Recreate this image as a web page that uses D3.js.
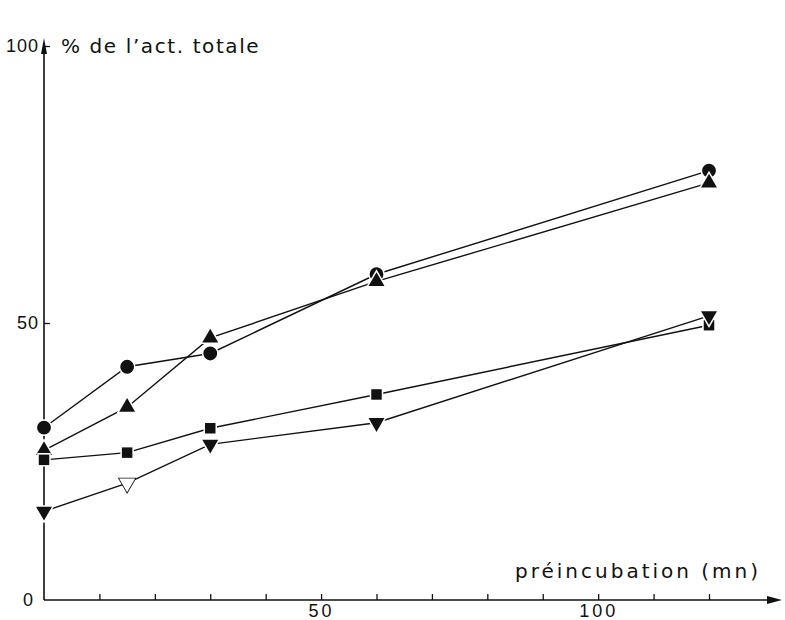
<!DOCTYPE html>
<html>
<head>
<meta charset="utf-8">
<style>
    body { margin: 0; background: #fff; }
    svg { display: block; font-family: 'DejaVu Sans', sans-serif; }
    .axis .domain { display: none; }
    .axis text { font-size: 18px; fill: #111; }
    .axis line { stroke: #111; stroke-width: 1.3; }
    .series path { fill: none; stroke: #111; stroke-width: 1.4; }
</style>
</head>
<body>
<svg width="785" height="620"></svg>
<script src="https://d3js.org/d3.v7.min.js"></script>
<script>
// preincubation times (mn)
const times = [0, 15, 30, 60, 120]

// % of total activity
const circles = [31.1, 42.1, 44.5, 58.8, 77.5]
const trianglesUp = [27.0, 34.8, 47.3, 57.5, 75.3]
const squares = [25.3, 26.6, 31.0, 37.1, 49.6]
const trianglesDown = [16.0, 21.1, 28.1, 32.0, 51.3]

const minorTicks = [10, 20, 30, 40, 50, 60, 70, 80, 90, 100, 110, 120]
const xLabels = [50, 100]
const yTicks = [0, 50, 100]

let svg = d3.select("svg")

let x = d3.scaleLinear().domain([0, 120]).range([44, 709])
let y = d3.scaleLinear().domain([0, 100]).range([600, 46])

// axis lines with arrow heads
svg.append("line")
    .attr("x1", x(0)).attr("y1", y(0))
    .attr("x2", 776).attr("y2", y(0))
    .attr("stroke", "#111").attr("stroke-width", 1.6)
svg.append("path")
    .attr("d", `M782,${y(0)} L767,${y(0) - 4} L767,${y(0) + 4} Z`)
    .attr("fill", "#111")

svg.append("line")
    .attr("x1", x(0)).attr("y1", y(0))
    .attr("x2", x(0)).attr("y2", 44)
    .attr("stroke", "#111").attr("stroke-width", 1.6)
svg.append("path")
    .attr("d", `M${x(0)},38 L${x(0) - 3},54 L${x(0) + 3},54 Z`)
    .attr("fill", "#111")

// x minor ticks (pointing up)
svg.append("g")
    .attr("class", "axis")
    .attr("transform", `translate(0, ${y(0)})`)
    .call(d3.axisBottom(x).tickValues(minorTicks).tickSize(-6).tickFormat(""))

// x labels
svg.append("g")
    .attr("class", "axis")
    .attr("transform", `translate(0, ${y(0)})`)
    .call(d3.axisBottom(x).tickValues(xLabels).tickSize(0).tickPadding(4))
    .selectAll("text").attr("letter-spacing", 3)

// y ticks (pointing right)
let yAxis = svg.append("g")
    .attr("class", "axis")
    .attr("transform", `translate(${x(0)}, 0)`)
    .call(d3.axisLeft(y).tickValues(yTicks).tickSize(-6).tickPadding(5))
yAxis.selectAll("text").attr("letter-spacing", 1)
yAxis.selectAll(".tick").filter(d => d === 0).select("line").remove()
yAxis.selectAll(".tick").filter(d => d === 0).select("text").attr("x", -10)

// axis titles
svg.append("text")
    .attr("x", 61).attr("y", 53)
    .attr("font-size", 20)
    .attr("letter-spacing", 1.6)
    .attr("fill", "#111")
    .text("% de l’act. totale")

svg.append("text")
    .attr("x", 515).attr("y", 578)
    .attr("font-size", 20)
    .attr("letter-spacing", 3)
    .attr("fill", "#111")
    .text("préincubation (mn)")

// series
const series = [
    { values: circles, symbol: d3.symbolCircle, size: 150, open: [] },
    { values: trianglesUp, symbol: d3.symbolTriangle, size: 110, open: [] },
    { values: squares, symbol: d3.symbolSquare, size: 110, open: [] },
    { values: trianglesDown, symbol: d3.symbolTriangle, size: 110, open: [1], flip: true }
]

let line = d3.line().x(d => x(d[0])).y(d => y(d[1]))

series.forEach(s => {
    let pts = times.map((t, i) => [t, s.values[i]])
    let g = svg.append("g").attr("class", "series")
    g.append("path").attr("d", line(pts))
    g.selectAll(".pt")
        .data(pts)
        .join("path")
        .attr("class", "pt")
        .attr("d", d3.symbol().type(s.symbol).size(s.size))
        .attr("transform", d => `translate(${x(d[0])}, ${y(d[1])})` + (s.flip ? " rotate(180)" : ""))
        .style("fill", (d, i) => s.open.includes(i) ? "#fff" : "#111")
        .style("stroke", (d, i) => s.open.includes(i) ? "#111" : "#fff")
        .style("stroke-width", (d, i) => s.open.includes(i) ? 1.6 : 3)
        .style("paint-order", "stroke")
})
</script>
</body>
</html>
